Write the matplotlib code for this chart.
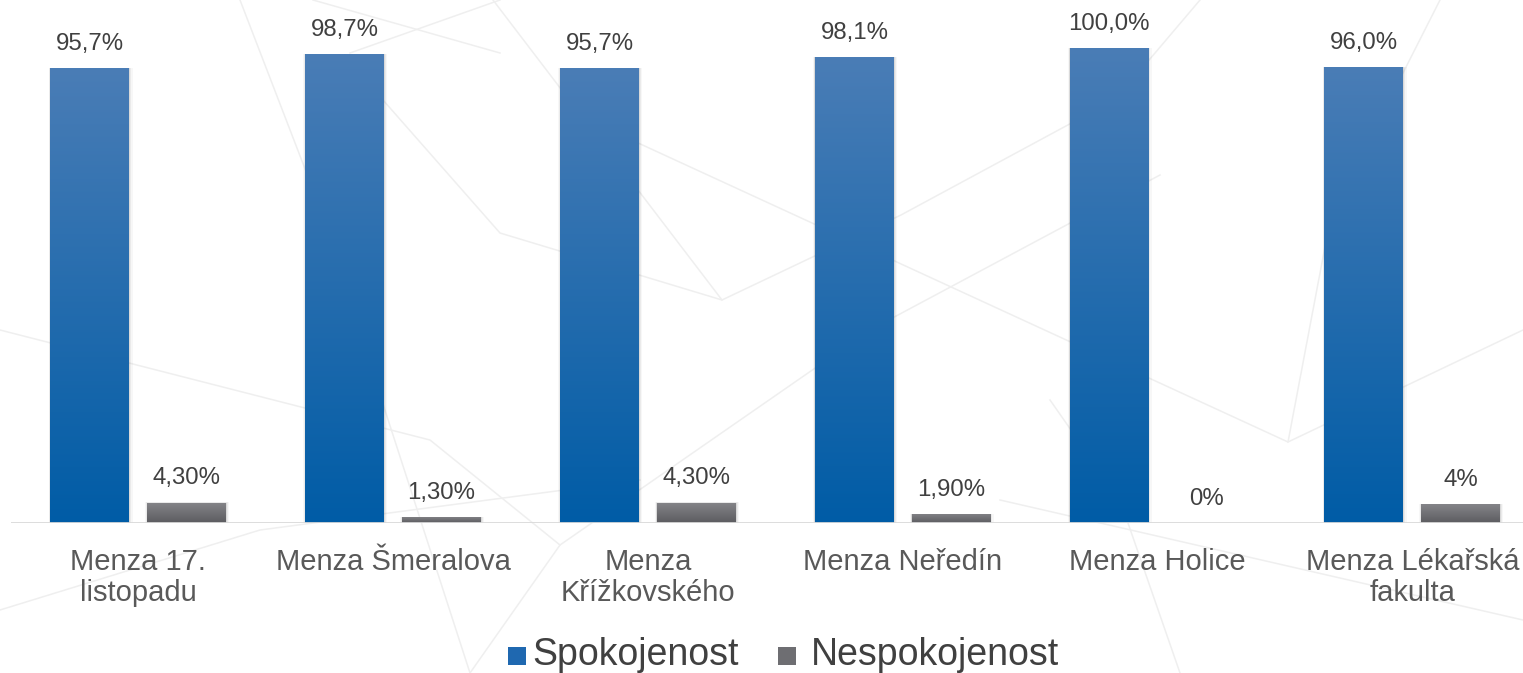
import numpy as np
import matplotlib
matplotlib.use("Agg")
import matplotlib.pyplot as plt
from matplotlib.patches import Rectangle

categories = ["Menza 17.\nlistopadu", "Menza Šmeralova", "Menza\nKřížkovského",
              "Menza Neředín", "Menza Holice", "Menza Lékařská\nfakulta"]
spokojenost = [95.7, 98.7, 95.7, 98.1, 100.0, 96.0]
nespokojenost = [4.3, 1.3, 4.3, 1.9, 0.0, 4.0]
spok_labels = ["95,7%", "98,7%", "95,7%", "98,1%", "100,0%", "96,0%"]
nespok_labels = ["4,30%", "1,30%", "4,30%", "1,90%", "0%", "4%"]

plt.rcParams['font.family'] = ['Liberation Sans', 'DejaVu Sans']

W, H = 1523, 673
fig = plt.figure(figsize=(W / 100, H / 100), dpi=100)

# faint decorative background mesh (slide template)
bg = fig.add_axes([0, 0, 1, 1], zorder=-5)
bg.set_xlim(0, W)
bg.set_ylim(H, 0)
bg.axis("off")
mesh = [
    [(240, 0), (317, 200), (470, 673)],
    [(313, 0), (500, 53)],
    [(350, 53), (500, 0)],
    [(383, 100), (500, 233), (722, 300), (493, 0)],
    [(722, 300), (901, 215), (1116, 99), (1200, 0)],
    [(636, 142), (1288, 442), (1331, 215), (1440, 0)],
    [(0, 330), (430, 440), (560, 545), (470, 673)],
    [(560, 545), (870, 330), (1160, 175)],
    [(1000, 500), (1523, 620)],
    [(0, 610), (260, 530), (640, 480)],
    [(1180, 673), (1120, 500), (1050, 400)],
    [(1288, 442), (1523, 330)],
]
for pts in mesh:
    xs, ys = zip(*pts)
    bg.plot(xs, ys, color="#efefef", lw=1.1)

# plot area: baseline at y=523px, category band 254.8px starting at x=11px
band = 254.8
ax = fig.add_axes([11 / W, (H - 523) / H, 6 * band / W, 523 / H])
ax.set_xlim(-0.5, 5.5)
ax.set_ylim(0, 523 / 475 * 100)
ax.axis("off")
ax.patch.set_alpha(0)

x = np.arange(len(categories))
width = 0.31
off = 0.19


def gradient_bars(bars, top, bottom):
    cmap = matplotlib.colors.LinearSegmentedColormap.from_list("g", [bottom, top])
    grad = np.linspace(0, 1, 256).reshape(-1, 1)
    for b in bars:
        b.set_facecolor("none")
        h = b.get_height()
        if h <= 0:
            continue
        # soft shadow around the bar
        for k, a in [(0.012, 0.03), (0.007, 0.05), (0.003, 0.07)]:
            sh = Rectangle((b.get_x() - k * 0.6, 0), b.get_width() + 1.6 * k, h + k * 4,
                           facecolor="#000000", alpha=a, edgecolor="none", zorder=1)
            ax.add_patch(sh)
        im = ax.imshow(grad, extent=[b.get_x(), b.get_x() + b.get_width(), 0, h],
                       origin="lower", cmap=cmap, aspect="auto", zorder=2)
        im.set_clip_path(b)


b1 = ax.bar(x - off, spokojenost, width, edgecolor="none", zorder=2)
b2 = ax.bar(x + off, nespokojenost, width, edgecolor="none", zorder=2)
gradient_bars(b1, "#4a7db6", "#005ca6")
gradient_bars(b2, "#858589", "#5c5c60")

for xi, v, t in zip(x - off, spokojenost, spok_labels):
    ax.annotate(t, (xi, v), xytext=(0, 9.5), textcoords="offset points",
                ha="center", va="bottom", fontsize=17.3, color="#404040")
for xi, v, t in zip(x + off, nespokojenost, nespok_labels):
    ax.annotate(t, (xi, v), xytext=(0, 9.5), textcoords="offset points",
                ha="center", va="bottom", fontsize=17.3, color="#404040")

# baseline
ax.axhline(0, color="#d9d9d9", lw=2, zorder=3)

for xi, c in zip(x, categories):
    ax.annotate(c, (xi, 0), xytext=(0, -18), textcoords="offset points",
                ha="center", va="top", fontsize=21, color="#595959",
                linespacing=1.12)

# legend
fig.patches.append(Rectangle((508 / W, 1 - 665 / H), 18 / W, 18 / H,
                             transform=fig.transFigure, facecolor="#1f68b0",
                             edgecolor="none"))
fig.text(532 / W, 1 - 655 / H, "Spokojenost", fontsize=27, color="#404040",
         ha="left", va="center")
fig.patches.append(Rectangle((778 / W, 1 - 665 / H), 18 / W, 18 / H,
                             transform=fig.transFigure, facecolor="#6e6e72",
                             edgecolor="none"))
fig.text(811 / W, 1 - 655 / H, "Nespokojenost", fontsize=27, color="#404040",
         ha="left", va="center")

fig.savefig("out.png", dpi=100)
